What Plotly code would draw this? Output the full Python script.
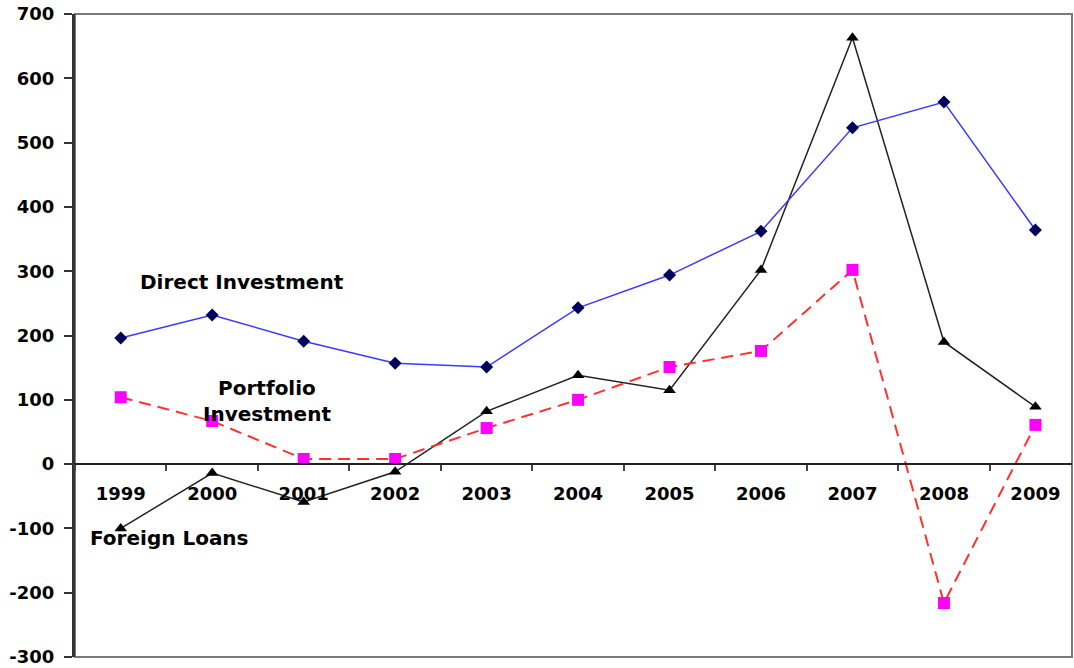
import plotly.graph_objects as go

years = ["1999", "2000", "2001", "2002", "2003", "2004", "2005", "2006", "2007", "2008", "2009"]
direct_investment = [196, 232, 191, 157, 151, 243, 294, 362, 523, 563, 364]
portfolio_investment = [104, 67, 8, 8, 56, 100, 151, 176, 302, -216, 61]
foreign_loans = [-100, -14, -59, -12, 82, 138, 115, 302, 663, 190, 89]

y_ticks = [-300, -200, -100, 0, 100, 200, 300, 400, 500, 600, 700]
y_tick_text = [str(v) for v in y_ticks]  # hyphen-minus as in the original

FONT = "DejaVu Sans"

fig = go.Figure()

fig.add_trace(go.Scatter(
    x=years, y=foreign_loans, mode="lines+markers", name="Foreign Loans",
    line=dict(color="#222222", width=1.5),
    marker=dict(symbol="triangle-up", size=11, color="#000000"),
))
fig.add_trace(go.Scatter(
    x=years, y=direct_investment, mode="lines+markers", name="Direct Investment",
    line=dict(color="#3a3aff", width=1.5),
    marker=dict(symbol="diamond", size=10, color="#00005a"),
))
fig.add_trace(go.Scatter(
    x=years, y=portfolio_investment, mode="lines+markers", name="Portfolio Investment",
    line=dict(color="#ff3030", width=2, dash="12px,7px"),
    marker=dict(symbol="square", size=12, color="#ff00ff"),
))

ann_font = dict(family=FONT, size=20, color="black", weight="bold")
annotations = [
    dict(x=1.33, y=283, text="Direct Investment"),
    dict(x=1.6, y=98, text="Portfolio<br>Investment"),
    dict(x=0.53, y=-115, text="Foreign Loans"),
]
for a in annotations:
    fig.add_annotation(x=a["x"], y=a["y"], text=a["text"], showarrow=False,
                       xref="x", yref="y", font=ann_font, align="center")

fig.add_shape(type="rect", xref="paper", yref="paper", x0=0, x1=1, y0=0, y1=1,
              line=dict(color="#7a7a7a", width=2), layer="below")

tick_font = dict(family=FONT, size=18, color="black", weight="bold")

fig.update_layout(
    width=1074, height=668,
    margin=dict(l=75, r=2, t=14, b=11),
    paper_bgcolor="white", plot_bgcolor="white",
    showlegend=False,
    xaxis=dict(
        type="category", range=[-0.5, 10.4],
        anchor="free", position=0.3,
        showline=True, linecolor="#222222", linewidth=2,
        ticks="outside", tickson="boundaries", ticklen=6, tickcolor="#444444", tickwidth=1.5,
        showgrid=False, zeroline=False,
        tickfont=tick_font, ticklabelstandoff=13,
    ),
    yaxis=dict(
        range=[-300, 700], tickvals=y_ticks, ticktext=y_tick_text,
        showline=True, linecolor="#333333", linewidth=3,
        ticks="outside", ticklen=8, tickcolor="#333333", tickwidth=2,
        showgrid=False, zeroline=False,
        tickfont=tick_font, ticklabelstandoff=6,
    ),
)

fig.write_html("out.html")
